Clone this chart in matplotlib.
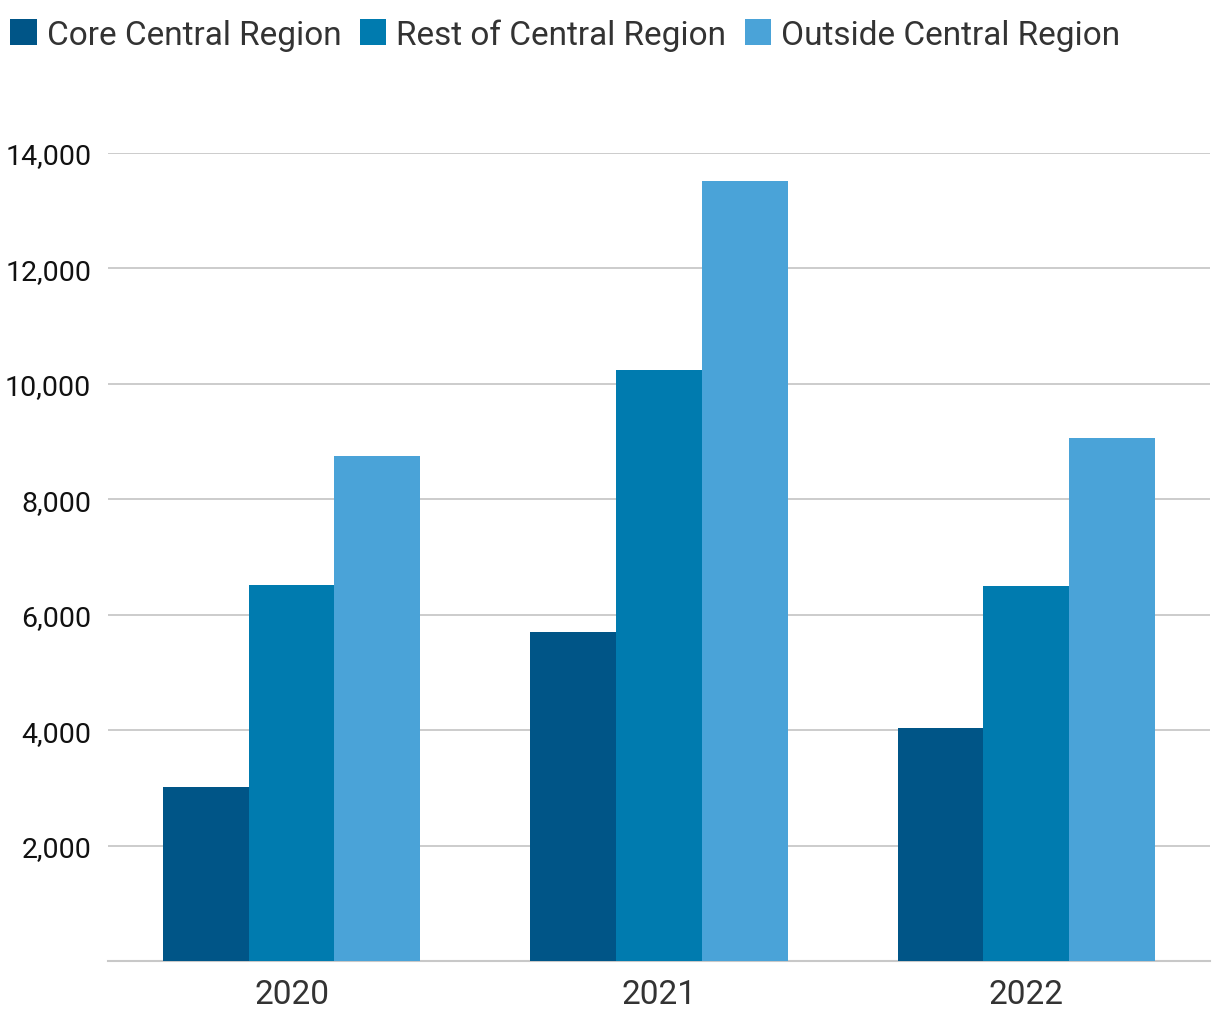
import matplotlib
matplotlib.use("Agg")
import matplotlib.pyplot as plt
import numpy as np
from matplotlib.patches import Patch

years = ["2020", "2021", "2022"]
series_names = ["Core Central Region", "Rest of Central Region", "Outside Central Region"]
core = [3010, 5700, 4030]
rest = [6510, 10240, 6500]
outside = [8750, 13520, 9060]
colors = ["#005587", "#007BAF", "#4AA3D8"]
yticks = [2000, 4000, 6000, 8000, 10000, 12000, 14000]

plt.rcParams['font.family'] = ['Roboto', 'DejaVu Sans']

fig = plt.figure(figsize=(12.2, 10.2), dpi=100)
ax = fig.add_axes([0.0885, 0.0569, 0.9033, 0.7922])

x = np.arange(len(years))
w = 0.7 / 3
for i, (vals, c) in enumerate(zip([core, rest, outside], colors)):
    ax.bar(x + (i - 1) * w, vals, width=w, color=c, zorder=3)

ax.set_xlim(-0.5, 2.5)
ax.set_ylim(0, 14000)
ax.set_yticks(yticks)
ax.set_yticklabels([f"{v:,}" for v in yticks], fontsize=20.5, color="#111111")
ax.set_xticks(x)
ax.set_xticklabels(years, fontsize=24, color="#333333")
ax.yaxis.grid(True, color="#C8C8C8", linewidth=1.3, zorder=0)
ax.tick_params(axis='y', length=0, pad=12)
ax.tick_params(axis='x', length=0, pad=12)
for s in ["top", "right", "left"]:
    ax.spines[s].set_visible(False)
ax.spines["bottom"].set_color("#C8C8C8")
ax.spines["bottom"].set_linewidth(1.5)

handles = [Patch(facecolor=c, edgecolor='none') for c in colors]
fig.legend(handles, series_names, loc="upper left", bbox_to_anchor=(0.0, 0.991),
           ncol=3, frameon=False, fontsize=24, handlelength=0.8, handleheight=0.8,
           handletextpad=0.3, columnspacing=0.55, labelcolor="#333333",
           borderaxespad=0.1, borderpad=0.2)

fig.savefig("out.png", dpi=100)
